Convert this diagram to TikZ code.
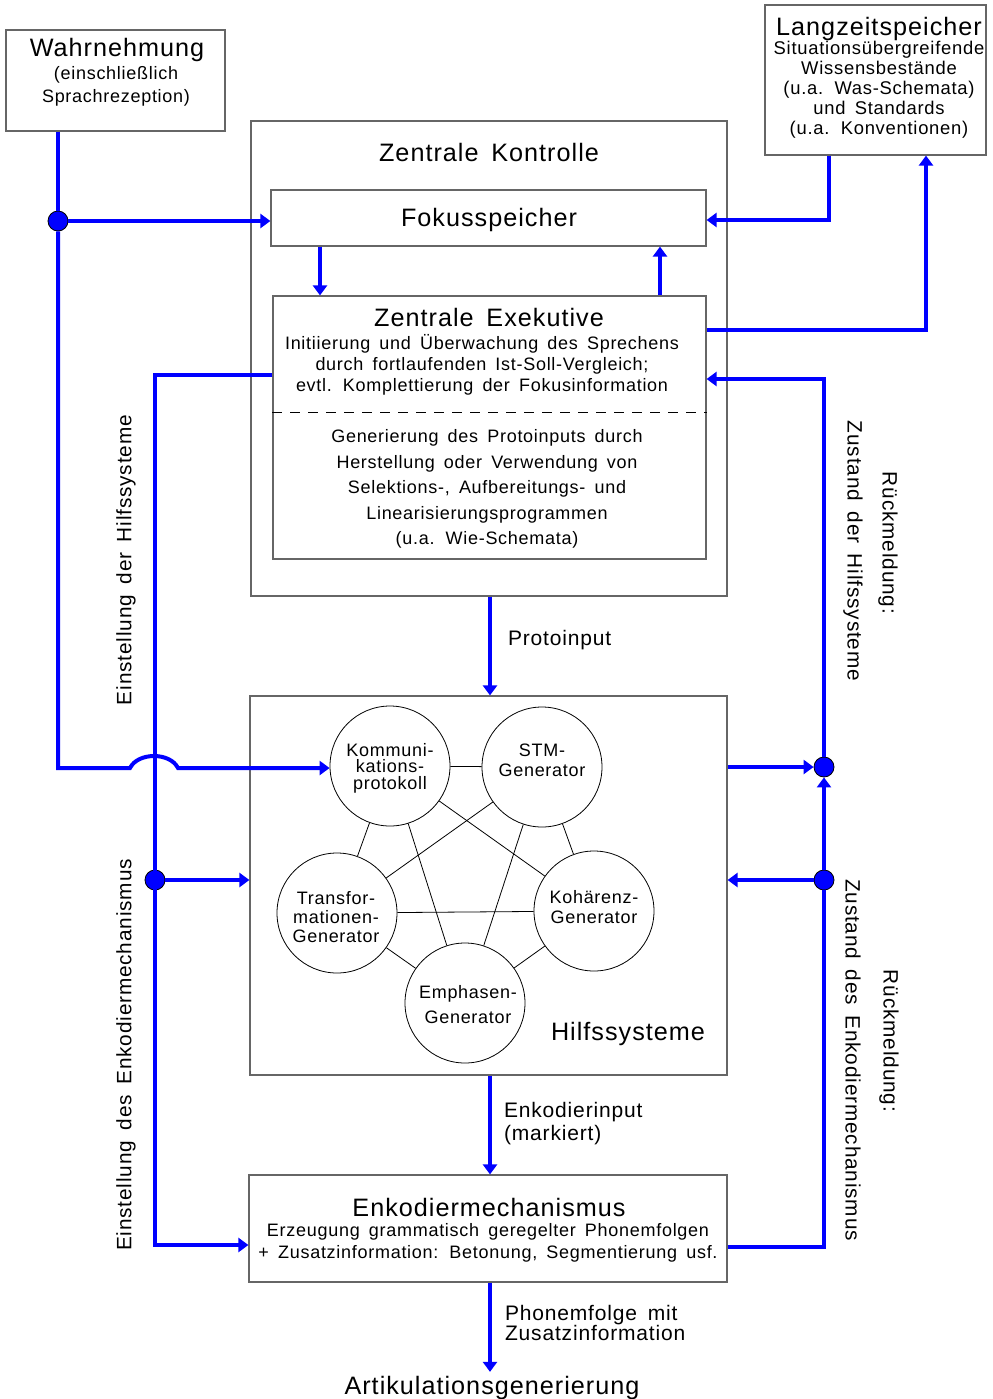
\documentclass[tikz,border=0pt]{standalone}
\usepackage{fontspec}
\setmainfont{Liberation Sans}[LetterSpace=4,WordSpace=1.6]
\usetikzlibrary{arrows.meta,fit,positioning}
\tikzset{box/.style={draw=black!60, line width=0.6pt, inner sep=0pt}}
\tikzset{gen/.style={draw, circle, line width=0.4pt, minimum size=60pt, inner sep=0pt}}
\tikzset{dot/.style={circle, fill=blue, draw=black, line width=0.4pt, minimum size=10pt, inner sep=0pt}}

\begin{document}
\begin{tikzpicture}[x=0.5pt, y=-0.5pt,
  title/.style={font=\fontsize{12.6}{14}\selectfont, inner sep=0pt},
  txt/.style={font=\fontsize{9}{10.5}\selectfont, align=center, inner sep=0pt},
  lbl/.style={font=\fontsize{10.5}{11.5}\selectfont, align=left, inner sep=0pt, anchor=west},
  rlbl/.style={font=\fontsize{10.4}{11.5}\selectfont, inner sep=0pt},
  link/.style={draw=blue, line width=2pt},
  flow/.style={link, -{Triangle[length=5pt,width=7pt]}},
  wire/.style={line width=0.4pt},
]
  \useasboundingbox (0,0) rectangle (992,1399);

  % ---- outer boxes ----
  \node[box, fit={(6,30) (225,131)}] (wahr) {};
  \node[title] (wahrT) at (117,50) {Wahrnehmung};
  \node[txt, font=\fontsize{9}{11.5}\selectfont] (wahrS) at (116,86)
      {(einschließlich\\Sprachrezeption)};

  \node[box, fit={(765,5) (986,155)}] (lang) {};
  \node[title] (langT) at (879,29) {Langzeitspeicher};
  \node[txt, font=\fontsize{9.2}{10}\selectfont] (langS) at (879,90)
      {Situationsübergreifende\\Wissensbestände\\(u.a. Was-Schemata)\\und Standards\\(u.a. Konventionen)};

  % ---- Zentrale Kontrolle ----
  \node[box, fit={(251,121) (727,596)}] (kontr) {};
  \node[title] (kontrT) at (489,152) {Zentrale Kontrolle};
  \node[box, fit={(271,190) (706,246)}] (fokus) {};
  \node[title] (fokusT) at (489,220) {Fokusspeicher};
  \node[box, fit={(273,296) (706,559)}] (exek) {};
  \node[title] (exekT) at (489,317) {Zentrale Exekutive};
  \node[txt] (exekA) at (482,365)
      {Initiierung und Überwachung des Sprechens\\durch fortlaufenden Ist-Soll-Vergleich;\\evtl. Komplettierung der Fokusinformation};
  \coordinate (yDash) at (0,412);
  \draw[dashed, dash pattern=on 5pt off 4pt, line width=0.5pt] (exek.west |- yDash) -- (exek.east |- yDash);
  \node[txt, font=\fontsize{9}{12.75}\selectfont] (exekB) at (487,489)
      {Generierung des Protoinputs durch\\Herstellung oder Verwendung von\\Selektions-, Aufbereitungs- und\\Linearisierungsprogrammen\\(u.a. Wie-Schemata)};

  % ---- Hilfssysteme ----
  \node[box, fit={(250,696) (727,1075)}] (hilf) {};
  \node[title] (hilfT) at (628,1034) {Hilfssysteme};
  \node[gen] (komm) at (390,766) {};
  \node[gen] (stm) at (542,767) {};
  \node[gen] (trans) at (337,913) {};
  \node[gen] (koh) at (594,911) {};
  \node[gen] (emph) at (465,1003) {};
  \foreach \a/\b in {komm/stm, komm/trans, komm/koh, komm/emph, stm/trans,
                     stm/koh, stm/emph, trans/koh, trans/emph, koh/emph}
    \draw[wire] (\a) -- (\b);
  \node[txt, font=\fontsize{9}{8.3}\selectfont] (kommT) at (390,768) {Kommuni-\\kations-\\protokoll};
  \node[txt, font=\fontsize{9}{10}\selectfont] (stmT) at (542,760) {STM-\\Generator};
  \node[txt, font=\fontsize{9}{9.3}\selectfont] (transT) at (336,917) {Transfor-\\mationen-\\Generator};
  \node[txt, font=\fontsize{9}{10}\selectfont] (kohT) at (594,907) {Kohärenz-\\Generator};
  \node[txt, font=\fontsize{9}{12.5}\selectfont] (emphT) at (468,1005) {Emphasen-\\Generator};

  % ---- Enkodiermechanismus ----
  \node[box, fit={(249,1175) (727,1282)}] (enk) {};
  \node[title] (enkT) at (489,1207) {Enkodiermechanismus};
  \node[txt, font=\fontsize{9}{11}\selectfont] (enkS) at (488,1243)
      {Erzeugung grammatisch geregelter Phonemfolgen\\+ Zusatzinformation: Betonung, Segmentierung usf.};
  \node[title, inner sep=2pt] (artik) at (492,1388) {Artikulationsgenerierung};

  % ---- helper coordinates ----
  \coordinate (xA) at (320,0);
  \coordinate (xB) at (660,0);
  \coordinate (xM) at (490,0);
  \coordinate (xL) at (829,0);
  \coordinate (xR) at (926,0);
  \coordinate (yFok) at (0,220);
  \coordinate (yExOut) at (0,330);
  \coordinate (yExL) at (0,375);
  \coordinate (yExR) at (0,379);
  \coordinate (yEnkL) at (0,1245);
  \coordinate (yEnkR) at (0,1247);
  \coordinate (jL) at (130,768);
  \coordinate (jR) at (178,768);

  % ---- left side arrows ----
  \node[dot] (dW) at (58,221) {};
  \node[dot] (dL) at (155,880) {};
  \draw[link] (dW |- wahr.south) -- (dW);
  \draw[flow] (dW) -- (dW -| fokus.west);
  \draw[flow] (exek.west |- yExL) -| (dL |- yEnkL) -- (enk.west |- yEnkL);
  \draw[flow] (dL) -- (dL -| hilf.west);
  \draw[flow] (dW) |- (jL) .. controls +(8,-16) and +(-8,-16) .. (jR) -- (jR -| komm.west);

  % ---- top arrows ----
  \draw[flow] (xL |- lang.south) |- (fokus.east |- yFok);
  \draw[flow] (exek.east |- yExOut) -| (xR |- lang.south);
  \draw[flow] (xA |- fokus.south) -- (xA |- exek.north);
  \draw[flow] (xB |- exek.north) -- (xB |- fokus.south);

  % ---- main flow ----
  \draw[flow] (xM |- kontr.south) -- node[lbl, pos=0.44, xshift=8pt] (protoL) {Protoinput} (xM |- hilf.north);
  \draw[flow] (xM |- hilf.south) -- node[lbl, pos=0.49, xshift=6pt] (enkL) {Enkodierinput\\(markiert)} (xM |- enk.north);
  \draw[flow] (xM |- enk.south) -- node[lbl, pos=0.45, xshift=6.5pt, font=\fontsize{10.5}{10}\selectfont] (phonL) {Phonemfolge mit\\Zusatzinformation} (xM |- artik.north);

  % ---- right side feedback ----
  \node[dot] (dR1) at (824,767) {};
  \node[dot] (dR2) at (824,880) {};
  \draw[flow] (hilf.east |- dR1) -- (dR1);
  \draw[flow] (dR2) -- (dR2 -| hilf.east);
  \draw[flow] (dR2) -- (dR1);
  \draw[flow] (dR1) |- (exek.east |- yExR);
  \draw[link] (enk.east |- yEnkR) -| (dR2);

  % ---- rotated labels ----
  \node[rlbl, rotate=90] (einH) at (126,560) {Einstellung der Hilfssysteme};
  \node[rlbl, rotate=90] (einE) at (126,1055) {Einstellung des Enkodiermechanismus};
  \node[rlbl, rotate=-90] (rueH) at (888,543) {Rückmeldung:};
  \node[rlbl, rotate=-90] (zusH) at (853,551) {Zustand der Hilfssysteme};
  \node[rlbl, rotate=-90] (rueE) at (889,1041) {Rückmeldung:};
  \node[rlbl, rotate=-90] (zusE) at (853,1060) {Zustand des Enkodiermechanismus};
\end{tikzpicture}
\end{document}
